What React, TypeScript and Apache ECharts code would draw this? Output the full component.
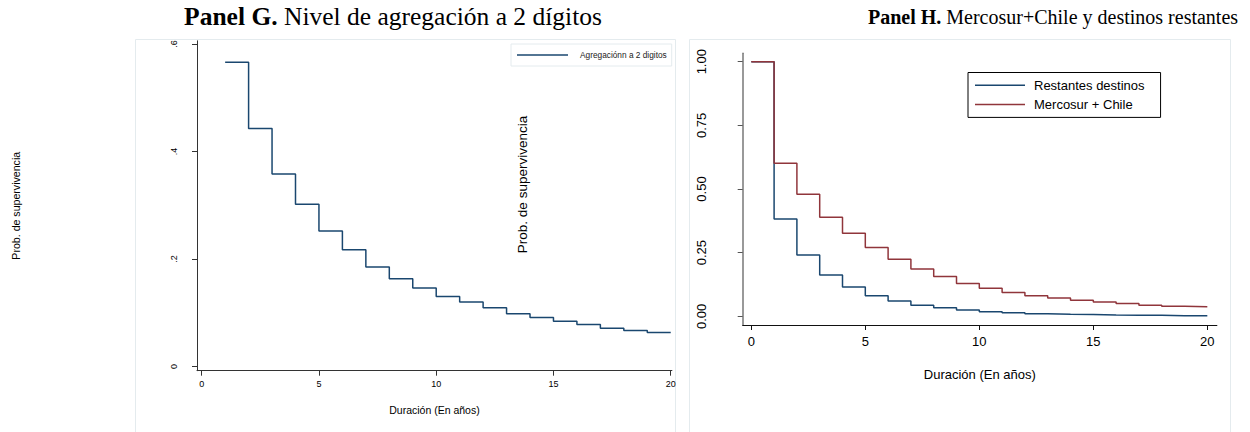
import React, { useEffect, useRef } from "react";
import * as echarts from "echarts";

// Panel G: 2-digit aggregation survival
const durG = [1, 2, 3, 4, 5, 6, 7, 8, 9, 10, 11, 12, 13, 14, 15, 16, 17, 18, 19, 20];
const survG = [0.566, 0.443, 0.358, 0.302, 0.252, 0.217, 0.185, 0.163, 0.146, 0.13, 0.12, 0.109, 0.098, 0.091, 0.084, 0.078, 0.071, 0.067, 0.063, 0.063];

// Panel H: Mercosur+Chile vs remaining destinations
const durH = [0, 1, 2, 3, 4, 5, 6, 7, 8, 9, 10, 11, 12, 13, 14, 15, 16, 17, 18, 19, 20];
const survRest = [1.0, 0.382, 0.241, 0.162, 0.115, 0.081, 0.06, 0.044, 0.034, 0.025, 0.018, 0.014, 0.01, 0.008, 0.007, 0.005, 0.004, 0.004, 0.002, 0.002, 0.002];
const survMerc = [1.0, 0.601, 0.479, 0.389, 0.326, 0.27, 0.224, 0.186, 0.156, 0.129, 0.11, 0.094, 0.081, 0.072, 0.063, 0.056, 0.05, 0.044, 0.04, 0.038, 0.038];

const ticksGx = [0, 5, 10, 15, 20];
const ticksGy = [0, 0.2, 0.4, 0.6];
const ticksHx = [0, 5, 10, 15, 20];
const ticksHy = [0, 0.25, 0.5, 0.75, 1.0];

const SANS = "'Liberation Sans', Arial, sans-serif";
const SERIF = "'Liberation Serif', 'Times New Roman', serif";
const BLUE = "#1a476f";
const RED = "#90353b";
const FRAME = "#e4ebee";

export default function App() {
  const ref = useRef<HTMLDivElement>(null);
  useEffect(() => {
    if (!ref.current) return;
    const chart = echarts.init(ref.current, null, { renderer: "svg" });
    const stataG = (v: number) => (v === 0 ? "0" : String(v).replace(/^0/, ""));
    chart.setOption({
      animation: false,
      backgroundColor: "#ffffff",
      graphic: [
        { type: "rect", shape: { x: 135.5, y: 39.5, width: 540, height: 420 }, style: { fill: "none", stroke: FRAME, lineWidth: 1 }, silent: true },
        { type: "rect", shape: { x: 689.5, y: 39.5, width: 541, height: 420 }, style: { fill: "none", stroke: FRAME, lineWidth: 1 }, silent: true },
        {
          type: "text", x: 393, y: 16,
          style: {
            text: "{b|Panel G.} Nivel de agregación a 2 dígitos",
            font: `25.5px ${SERIF}`, fill: "#000", align: "center", verticalAlign: "middle",
            rich: { b: { fontWeight: "bold", fontSize: 25.5, fontFamily: SERIF, fill: "#000" } },
          },
        },
        {
          type: "text", x: 1053, y: 17,
          style: {
            text: "{b|Panel H.} Mercosur+Chile y destinos restantes",
            font: `20px ${SERIF}`, fill: "#000", align: "center", verticalAlign: "middle",
            rich: { b: { fontWeight: "bold", fontSize: 20, fontFamily: SERIF, fill: "#000" } },
          },
        },
        {
          type: "text", x: 522.5, y: 184.5, rotation: Math.PI / 2,
          style: { text: "Prob. de supervivencia", font: `13.5px ${SANS}`, fill: "#000", align: "center", verticalAlign: "middle" },
        },
      ],
      legend: [
        {
          left: 511, top: 44, orient: "horizontal",
          padding: [7, 5, 7, 6],
          itemWidth: 51, itemHeight: 1.5, icon: "rect",
          borderColor: FRAME, borderWidth: 1,
          data: ["Agregaciónn a 2 digitos"],
          textStyle: { fontSize: 8.3, fontFamily: SANS, color: "#222", padding: [0, 0, 0, 7] },
        },
        {
          left: 968, top: 72.5, orient: "vertical",
          padding: [5.3, 16, 5.3, 7],
          itemWidth: 50, itemHeight: 1.5, icon: "rect", itemGap: 4.3,
          borderColor: "#000", borderWidth: 1,
          data: ["Restantes destinos", "Mercosur + Chile"],
          textStyle: { fontSize: 13, fontFamily: SANS, color: "#000", lineHeight: 15, padding: [0, 0, 0, 4] },
        },
      ],
      grid: [
        { left: 197, top: 40.8, width: 474.9, height: 329.9, containLabel: false },
        { left: 742.7, top: 53.3, width: 474.2, height: 271.7, containLabel: false },
      ],
      xAxis: [
        {
          gridIndex: 0, type: "value", min: -0.2, max: 20.05,
          name: "Duración (En años)", nameLocation: "middle", nameGap: 34,
          nameTextStyle: { fontSize: 10.5, fontFamily: SANS, color: "#000" },
          axisLine: { show: true, onZero: false, lineStyle: { color: "#333", width: 1 } },
          axisTick: { show: true, length: 5, customValues: ticksGx, lineStyle: { color: "#333" } },
          axisLabel: { customValues: ticksGx, fontSize: 9, fontFamily: SANS, color: "#000", margin: 9 },
          splitLine: { show: false },
        },
        {
          gridIndex: 1, type: "value", min: -0.377, max: 20.42,
          name: "Duración (En años)", nameLocation: "middle", nameGap: 43,
          nameTextStyle: { fontSize: 13, fontFamily: SANS, color: "#000" },
          axisLine: { show: true, onZero: false, lineStyle: { color: "#111", width: 1 } },
          axisTick: { show: true, length: 5, customValues: ticksHx, lineStyle: { color: "#111" } },
          axisLabel: { customValues: ticksHx, fontSize: 13, fontFamily: SANS, color: "#000", margin: 10 },
          splitLine: { show: false },
        },
      ],
      yAxis: [
        {
          gridIndex: 0, type: "value", min: -0.008, max: 0.606,
          name: "Prob. de supervivencia", nameLocation: "middle", nameGap: 176, nameRotate: 90,
          nameTextStyle: { fontSize: 10.6, fontFamily: SANS, color: "#000" },
          axisLine: { show: true, onZero: false, lineStyle: { color: "#333", width: 1 } },
          axisTick: { show: true, length: 5, customValues: ticksGy, lineStyle: { color: "#333" } },
          axisLabel: { customValues: ticksGy, rotate: 90, fontSize: 9, fontFamily: SANS, color: "#000", margin: 19, formatter: (v: number) => stataG(v) },
          splitLine: { show: false },
        },
        {
          gridIndex: 1, type: "value", min: -0.034, max: 1.033,
          axisLine: { show: true, onZero: false, lineStyle: { color: "#777", width: 1.5 } },
          axisTick: { show: true, length: 5, customValues: ticksHy, lineStyle: { color: "#555" } },
          axisLabel: { customValues: ticksHy, rotate: 90, fontSize: 13, fontFamily: SANS, color: "#000", margin: 35, formatter: (v: number) => v.toFixed(2) },
          splitLine: { show: false },
        },
      ],
      series: [
        {
          name: "Agregaciónn a 2 digitos", type: "line", step: "end", xAxisIndex: 0, yAxisIndex: 0,
          data: durG.map((d, i) => [d, survG[i]]), symbol: "none", color: BLUE,
          lineStyle: { color: BLUE, width: 1.5 },
        },
        {
          name: "Restantes destinos", type: "line", step: "end", xAxisIndex: 1, yAxisIndex: 1,
          data: durH.map((d, i) => [d, survRest[i]]), symbol: "none", color: BLUE,
          lineStyle: { color: BLUE, width: 1.5 },
        },
        {
          name: "Mercosur + Chile", type: "line", step: "end", xAxisIndex: 1, yAxisIndex: 1,
          data: durH.map((d, i) => [d, survMerc[i]]), symbol: "none", color: RED,
          lineStyle: { color: RED, width: 1.5 },
        },
      ],
    });
    return () => chart.dispose();
  }, []);
  return <div ref={ref} style={{ position: "absolute", left: 0, top: 0, width: 1250, height: 432 }} />;
}
